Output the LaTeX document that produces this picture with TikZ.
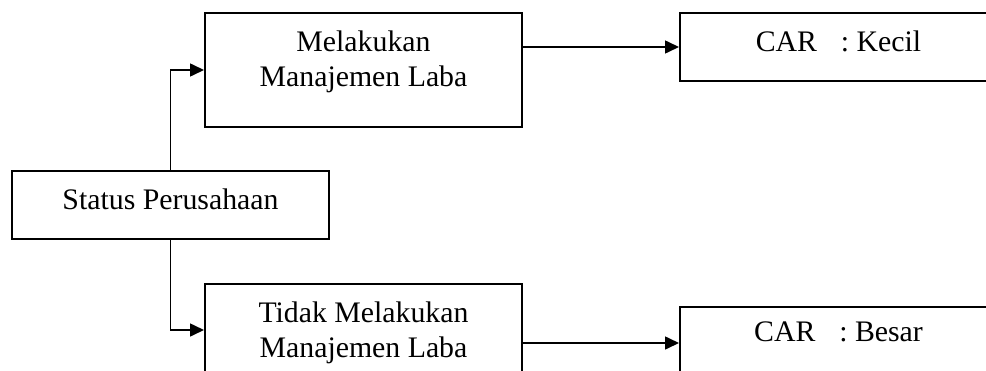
\documentclass[tikz,border=0pt]{standalone}
\usepackage{fontspec}
\setmainfont{Liberation Serif}
\usetikzlibrary{positioning,arrows.meta}

\tikzset{
    box/.style={draw=black, line width=2pt, minimum width=317pt, inner sep=0pt},
    lbl/.style={anchor=north, inner sep=0pt, align=center, font=\fontsize{29.8pt}{34.3pt}\selectfont},
    link/.style={line width=1.6pt, -{Triangle[length=14pt, width=13pt]}}
}

\begin{document}
\begin{tikzpicture}[x=1pt, y=-1pt]
    \useasboundingbox (0, 0) rectangle (986, 370);
    \clip (0, 0) rectangle (986, 370);
    \node[box, minimum height=68pt] (status) at (170.5, 205) {};
    \node[box, minimum height=114pt] (mela) at (363.5, 70) {};
    \node[box, minimum height=92pt] (tidak) at (363.5, 330) {};
    \node[box, minimum height=68pt] (kecil) at (838.5, 47) {};
    \node[box, minimum height=72pt] (besar) at (838.5, 343) {};
    \node[lbl, below=19pt of status.north] (statustxt) {Status Perusahaan};
    \node[lbl, below=19pt of mela.north] (melatxt) {Melakukan\\Manajemen Laba};
    \node[lbl, below=19pt of tidak.north] (tidaktxt) {Tidak Melakukan\\Manajemen Laba};
    \node[lbl, below=19pt of kecil.north] (keciltxt) {CAR\hspace{0.8em}: Kecil};
    \node[lbl, below=16pt of besar.north] (besartxt) {CAR\hspace{0.8em}: Besar};
    \draw[link] (status.north) |- (mela.west);
    \draw[link] (status.south) |- (tidak.west);
    \draw[link] (mela.east |- kecil.west) -- (kecil.west);
    \draw[link] (tidak.east |- besar.west) -- (besar.west);
\end{tikzpicture}
\end{document}
